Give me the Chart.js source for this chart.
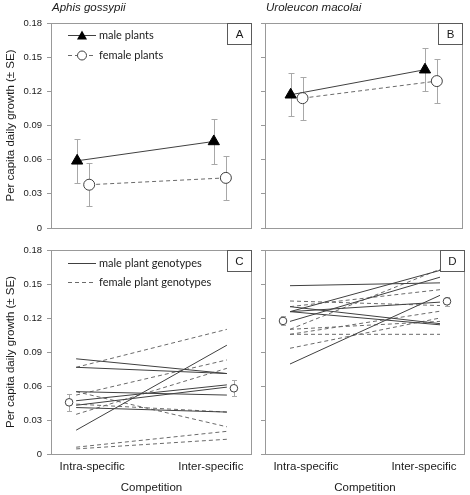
<!DOCTYPE html>
<html>
<head>
<meta charset="utf-8">
<script src="https://cdn.jsdelivr.net/npm/chart.js@4.4.1/dist/chart.umd.min.js"></script>
<style>
  html, body { margin: 0; padding: 0; background: #fff; }
  #wrap { position: relative; width: 470px; height: 495px; }
  #wrap canvas { position: absolute; left: 0; top: 0; }
</style>
</head>
<body>
<div id="wrap">
  <canvas id="chartA" width="470" height="495"></canvas>
  <canvas id="chartB" width="470" height="495"></canvas>
  <canvas id="chartC" width="470" height="495"></canvas>
  <canvas id="chartD" width="470" height="495"></canvas>
</div>
<script>
// categories and tick labels
const groups = ['Intra-specific', 'Inter-specific'];
const yTicks = [0, 0.03, 0.06, 0.09, 0.12, 0.15, 0.18];
const yTickLabels = ['0', '0.03', '0.06', '0.09', '0.12', '0.15', '0.18'];

// A - Aphis gossypii, plant sex means
const aphisMale = [0.059, 0.076];
const aphisMaleSE = [0.0195, 0.0195];
const aphisFemale = [0.038, 0.044];
const aphisFemaleSE = [0.019, 0.019];

// B - Uroleucon macolai, plant sex means
const uroMale = [0.117, 0.139];
const uroMaleSE = [0.019, 0.019];
const uroFemale = [0.114, 0.129];
const uroFemaleSE = [0.019, 0.019];

// C - Aphis gossypii, genotypes (intra, inter)
const aphisMaleGeno = [[0.084, 0.071], [0.0765, 0.071], [0.055, 0.052], [0.047, 0.061], [0.043, 0.059], [0.041, 0.037], [0.021, 0.096]];
const aphisFemaleGeno = [[0.0765, 0.110], [0.052, 0.083], [0.035, 0.0756], [0.055, 0.024], [0.044, 0.037], [0.006, 0.020], [0.0045, 0.013]];
const aphisMean = [0.0456, 0.058];
const aphisMeanSE = [0.0075, 0.007];

// D - Uroleucon macolai, genotypes (intra, inter)
const uroMaleGeno = [[0.1485, 0.151], [0.1256, 0.162], [0.117, 0.156], [0.130, 0.115], [0.1256, 0.114], [0.1256, 0.134], [0.0794, 0.140]];
const uroFemaleGeno = [[0.110, 0.163], [0.135, 0.131], [0.1056, 0.1056], [0.0933, 0.120], [0.1056, 0.126], [0.130, 0.145], [0.110, 0.117]];
const uroMean = [0.1174, 0.1347];
const uroMeanSE = [0.004, 0.004];

// where things sit along the x axis (0..1)
const xPos = { male: [0.13, 0.81], female: [0.19, 0.87], geno: [0.125, 0.875], mean: [0.09, 0.91], label: [0.205, 0.795] };

const FONT = "'Liberation Sans', Arial, sans-serif";
const textColor = '#1a1a1a';
const frameColor = '#999999';
const boxColor = '#5a5a5a';
const errColor = '#a8a8a8';
const solidColor = '#404040';
const dashColor = '#6a6a6a';

const pts = (xs, ys) => ys.map((y, i) => ({ x: xs[i], y: y }));

// error bars, frame, letter box, title and legend
const panelDecor = {
  id: 'panelDecor',
  beforeDatasetsDraw(chart, args, opts) {
    const ctx = chart.ctx;
    const yScale = chart.scales.y;
    chart.data.datasets.forEach((ds, di) => {
      if (!ds.errors) return;
      const meta = chart.getDatasetMeta(di);
      ctx.save();
      ctx.strokeStyle = errColor;
      ctx.lineWidth = 1;
      meta.data.forEach((pt, i) => {
        const v = ds.data[i].y, e = ds.errors[i];
        const top = Math.round(yScale.getPixelForValue(v + e)) + 0.5;
        const bot = Math.round(yScale.getPixelForValue(v - e)) + 0.5;
        const x = Math.round(pt.x) + 0.5;
        const c = ds.cap || 3;
        ctx.beginPath();
        ctx.moveTo(x, top); ctx.lineTo(x, bot);
        ctx.moveTo(x - c, top); ctx.lineTo(x + c, top);
        ctx.moveTo(x - c, bot); ctx.lineTo(x + c, bot);
        ctx.stroke();
      });
      ctx.restore();
    });
  },
  afterDraw(chart, args, opts) {
    const ctx = chart.ctx;
    const a = chart.chartArea;
    ctx.save();
    // frame
    ctx.strokeStyle = frameColor;
    ctx.lineWidth = 1;
    ctx.strokeRect(Math.round(a.left) + 0.5, Math.round(a.top) + 0.5, Math.round(a.right - a.left) - 1, Math.round(a.bottom - a.top));
    // letter box
    const bw = 25, bh = 21;
    ctx.fillStyle = '#fff';
    ctx.fillRect(Math.round(a.right) - bw, Math.round(a.top) + 0.5, bw - 0.5, bh);
    ctx.strokeStyle = boxColor;
    ctx.strokeRect(Math.round(a.right) - bw + 0.5, Math.round(a.top) + 0.5, bw - 1, bh);
    ctx.fillStyle = textColor;
    ctx.font = '11.5px ' + FONT;
    ctx.textAlign = 'center';
    ctx.textBaseline = 'middle';
    ctx.fillText(opts.letter, Math.round(a.right) - bw / 2, a.top + bh / 2 + 1);
    // species title
    if (opts.title) {
      ctx.font = 'italic 11.5px ' + FONT;
      ctx.textAlign = 'left';
      ctx.fillText(opts.title, a.left + 1, 8);
    }
    // legend
    (opts.legend || []).forEach((it, i) => {
      const y = Math.round(a.top + it.dy) + 0.5;
      const x0 = a.left + 17, x1 = a.left + 45;
      ctx.strokeStyle = it.color;
      ctx.setLineDash(it.dash || []);
      ctx.beginPath(); ctx.moveTo(x0, y); ctx.lineTo(x1, y); ctx.stroke();
      ctx.setLineDash([]);
      const cx = (x0 + x1) / 2;
      if (it.marker === 'triangle') {
        ctx.fillStyle = '#000';
        ctx.beginPath();
        ctx.moveTo(cx, y - 5); ctx.lineTo(cx + 5, y + 4); ctx.lineTo(cx - 5, y + 4);
        ctx.closePath(); ctx.fill();
      } else if (it.marker === 'circle') {
        ctx.fillStyle = '#fff';
        ctx.strokeStyle = solidColor;
        ctx.beginPath(); ctx.arc(cx, y, 4.5, 0, Math.PI * 2); ctx.fill(); ctx.stroke();
      }
      ctx.fillStyle = textColor;
      ctx.font = "11px Lato, 'Open Sans', sans-serif";
      ctx.textAlign = 'left';
      ctx.textBaseline = 'middle';
      ctx.fillText(it.text, x1 + 3, y);
    });
    ctx.restore();
  }
};

function makePanel(id, frame, datasets, cfg) {
  const yW = cfg.showY ? 51 : 4;
  const xH = cfg.showX ? 41 : 0;
  return new Chart(document.getElementById(id), {
    type: 'line',
    data: { datasets: datasets },
    options: {
      responsive: false,
      animation: false,
      events: [],
      layout: {
        padding: { left: frame.left - yW, top: frame.top, right: 470 - frame.right, bottom: 495 - frame.bottom - xH }
      },
      scales: {
        x: {
          type: 'linear', min: 0, max: 1,
          afterBuildTicks: s => { s.ticks = xPos.label.map(v => ({ value: v })); },
          afterFit: s => { s.height = xH; },
          ticks: {
            display: cfg.showX, autoSkip: false, maxRotation: 0, padding: 6,
            color: textColor, font: { family: FONT, size: 11.5 },
            callback: (v, i) => groups[i]
          },
          grid: { display: false, drawTicks: false },
          border: { display: false },
          title: {
            display: cfg.showX, text: 'Competition', color: textColor,
            font: { family: FONT, size: 11.5 }, padding: { top: 4, bottom: 0 }
          }
        },
        y: {
          min: 0, max: 0.18,
          afterBuildTicks: s => { s.ticks = yTicks.map(v => ({ value: v })); },
          afterFit: s => { s.width = yW; },
          ticks: {
            display: cfg.showY, padding: 5, color: textColor,
            font: { family: FONT, size: 9.5 },
            callback: (v, i) => yTickLabels[i]
          },
          grid: { drawOnChartArea: false, tickLength: 4, color: frameColor },
          border: { display: false },
          title: {
            display: cfg.showY, text: 'Per capita daily growth (\u00b1 SE)', color: textColor,
            font: { family: FONT, size: 11.5 }, padding: { top: 4, bottom: 0 }
          }
        }
      },
      plugins: {
        legend: { display: false },
        tooltip: { enabled: false },
        panelDecor: { letter: cfg.letter, title: cfg.title, legend: cfg.legend }
      }
    },
    plugins: [panelDecor]
  });
}

function sexSets(male, maleSE, female, femaleSE) {
  return [
    {
      data: pts(xPos.female, female), errors: femaleSE, cap: 3,
      borderColor: dashColor, borderWidth: 1, borderDash: [4, 3],
      pointStyle: 'circle', pointRadius: 5.5, pointBackgroundColor: '#fff',
      pointBorderColor: solidColor, pointBorderWidth: 1
    },
    {
      data: pts(xPos.male, male), errors: maleSE, cap: 3,
      borderColor: solidColor, borderWidth: 1,
      pointStyle: 'triangle', pointRadius: 6.5, pointBackgroundColor: '#000',
      pointBorderColor: '#000', pointBorderWidth: 1
    }
  ];
}

function genoSets(maleGeno, femaleGeno, mean, meanSE) {
  const sets = [];
  maleGeno.forEach(g => sets.push({
    data: pts(xPos.geno, g), borderColor: solidColor, borderWidth: 1, pointRadius: 0
  }));
  femaleGeno.forEach(g => sets.push({
    data: pts(xPos.geno, g), borderColor: dashColor, borderWidth: 1, borderDash: [4, 3], pointRadius: 0
  }));
  sets.push({
    data: pts(xPos.mean, mean), errors: meanSE, cap: 2.5, showLine: false,
    pointStyle: 'circle', pointRadius: 3.8, pointBackgroundColor: '#fff',
    pointBorderColor: solidColor, pointBorderWidth: 1
  });
  return sets;
}

makePanel('chartA', { left: 51, top: 23, right: 252, bottom: 228 },
  sexSets(aphisMale, aphisMaleSE, aphisFemale, aphisFemaleSE),
  { showY: true, showX: false, letter: 'A', title: 'Aphis gossypii',
    legend: [
      { text: 'male plants', color: solidColor, marker: 'triangle' },
      { text: 'female plants', color: dashColor, dash: [4, 3], marker: 'circle' }
    ].map((it, i) => Object.assign(it, { dy: 12 + i * 20 })) });

makePanel('chartB', { left: 265, top: 23, right: 467, bottom: 228 },
  sexSets(uroMale, uroMaleSE, uroFemale, uroFemaleSE),
  { showY: false, showX: false, letter: 'B', title: 'Uroleucon macolai' });

makePanel('chartC', { left: 51, top: 250, right: 252, bottom: 454 },
  genoSets(aphisMaleGeno, aphisFemaleGeno, aphisMean, aphisMeanSE),
  { showY: true, showX: true, letter: 'C',
    legend: [
      { text: 'male plant genotypes', color: solidColor },
      { text: 'female plant genotypes', color: dashColor, dash: [4, 3] }
    ].map((it, i) => Object.assign(it, { dy: 13 + i * 19 })) });

makePanel('chartD', { left: 265, top: 250, right: 467, bottom: 454 },
  genoSets(uroMaleGeno, uroFemaleGeno, uroMean, uroMeanSE),
  { showY: false, showX: true, letter: 'D' });
</script>
</body>
</html>
